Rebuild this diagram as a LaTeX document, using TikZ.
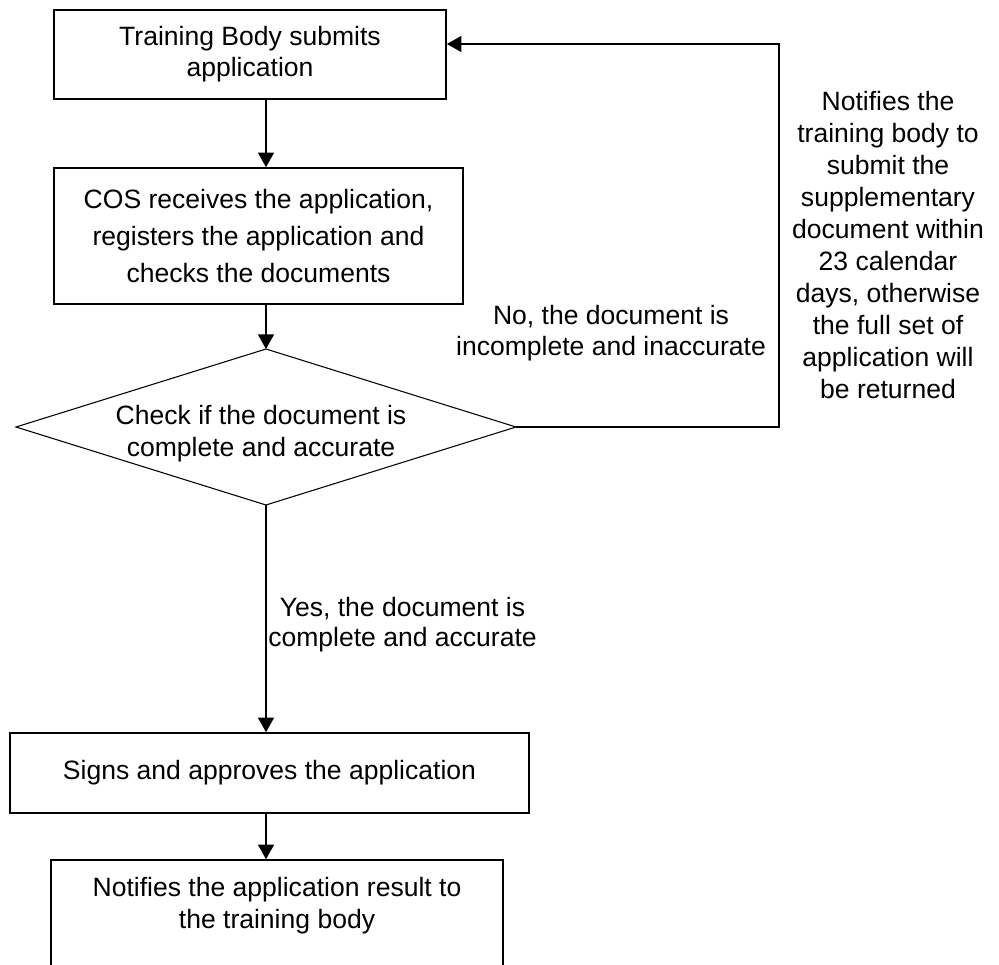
\documentclass[tikz,border=0pt]{standalone}
\usepackage{fontspec}
\setmainfont{Liberation Sans}
\usetikzlibrary{arrows.meta}
\newcommand\fsz[1]{\fontsize{19.9pt}{#1}\selectfont}
\begin{document}
\begin{tikzpicture}[x=0.75pt,y=-0.75pt,
  box/.style={draw, line width=1.2pt, inner sep=0pt, align=center},
  arr/.style={line width=1.3pt, -{Triangle[length=11pt,width=12pt]}},
  lbl/.style={align=center, inner sep=0pt},
  thin/.style={line width=0.8pt}]
\useasboundingbox (0,0) rectangle (999,964);
\clip (0,0) rectangle (999,964);
% boxes
\node[box, font=\fsz{23.3pt}, minimum width=294pt, minimum height=66.75pt] (b1) at (250,54.5) {Training Body submits\\application};
\node[box, font=\fsz{27.5pt}, minimum width=306.75pt, minimum height=102pt] (b2) at (258.5,236) {COS receives the application,\\registers the application and\\checks the documents};
\node[box, font=\fsz{24pt}, minimum width=389.25pt, minimum height=60pt] (b3) at (269.5,773) {Signs and approves the application};
\node[box, minimum width=339pt, minimum height=112.5pt] (b4) at (277,935) {};
\node[lbl, font=\fsz{24pt}] (b4t) at (277,906) {Notifies the application result to\\the training body};
% decision diamond
\coordinate (dt) at (266,349);
\coordinate (dr) at (516,427);
\coordinate (db) at (266,505);
\coordinate (dl) at (16,427);
\draw[thin] (dt) -- (dr) -- (db) -- (dl) -- cycle;
\node[lbl, font=\fsz{24pt}] (dtext) at (261,434) {Check if the document is\\complete and accurate};
% feedback loop
\coordinate (c1) at (779,427);
\coordinate (c2) at (779,44);
\draw[arr, line width=1.2pt] (dr) -- (c1) -- (c2) -- (c2 -| b1.east);
% main arrows
\draw[arr] (b1.south -| dt) -- (b2.north -| dt);
\draw[arr] (b2.south -| dt) -- (dt);
\draw[arr] (db) -- (b3.north -| db);
\draw[arr] (b3.south -| db) -- (b4.north -| db);
% labels
\node[lbl, font=\fsz{23.3pt}] (no) at (611,333.6) {No, the document is\\incomplete and inaccurate};
\node[lbl, font=\fsz{24pt}] (note) at (888,244.8) {Notifies the\\training body to\\submit the\\supplementary\\document within\\23 calendar\\days, otherwise\\the full set of\\application will\\be returned};
\node[lbl, font=\fsz{22.5pt}] (yes) at (402.5,625) {Yes, the document is\\complete and accurate};
\end{tikzpicture}
\end{document}
